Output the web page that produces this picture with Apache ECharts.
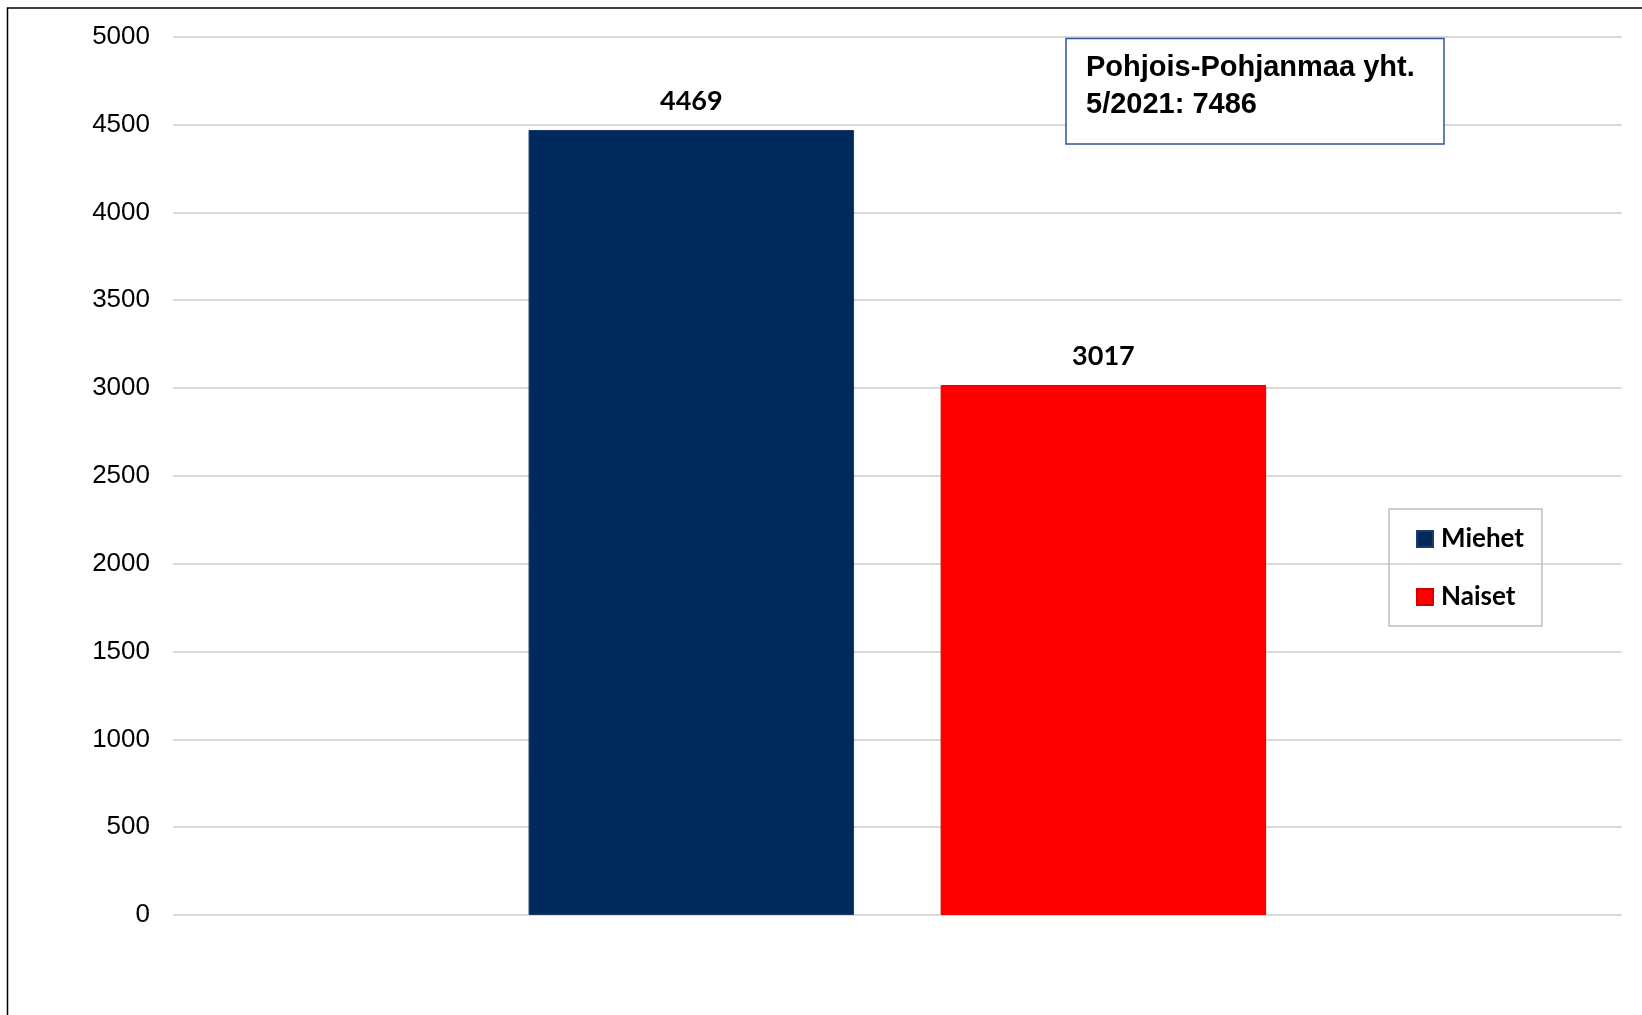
<!DOCTYPE html>
<html>
<head>
<meta charset="utf-8">
<script src="https://cdn.jsdelivr.net/npm/echarts@6/dist/echarts.min.js"></script>
<style>
html,body{margin:0;padding:0;background:#fff;}
#chart{width:1642px;height:1015px;}
</style>
</head>
<body>
<div id="chart"></div>
<script>
var categories = [''];
var seriesNames = ['Miehet', 'Naiset'];
var miehetValues = [4469];
var naisetValues = [3017];
var yTicks = { min: 0, max: 5000, interval: 500 };
var boxText = ['Pohjois-Pohjanmaa yht.', '5/2021: 7486'];

var chart = echarts.init(document.getElementById('chart'));
var labelStyle = {
  show: true, position: 'top', distance: 15,
  fontFamily: 'Lato', fontWeight: 'bold', fontSize: 27, color: '#000'
};
chart.setOption({
  animation: false,
  backgroundColor: '#fff',
  grid: { left: 173, right: 20.3, top: 36.7, bottom: 100, containLabel: false },
  xAxis: {
    type: 'category', data: categories,
    axisLine: { show: false }, axisTick: { show: false }, axisLabel: { show: false }
  },
  yAxis: {
    type: 'value', min: yTicks.min, max: yTicks.max, interval: yTicks.interval,
    axisLine: { show: false }, axisTick: { show: false },
    axisLabel: {
      fontFamily: 'Liberation Sans', fontSize: 26, color: '#000', margin: 23,
      formatter: function (v) { return String(v); }
    },
    splitLine: { lineStyle: { color: '#d9d9d9', width: 2 } }
  },
  legend: {
    orient: 'vertical', left: 1389, top: 509,
    data: seriesNames,
    icon: 'rect', itemWidth: 16, itemHeight: 16, itemGap: 32,
    borderColor: '#bfbfbf', borderWidth: 1.5,
    padding: [17, 18, 16, 27],
    textStyle: { fontFamily: 'Lato', fontWeight: 'bold', fontSize: 26, color: '#000', padding: [0, 0, 0, 3] }
  },
  series: [
    {
      name: seriesNames[0], type: 'bar', data: miehetValues,
      barWidth: 325.5, barGap: '26.6%',
      itemStyle: { color: '#00295c', borderColor: '#1f3a66', borderWidth: 1 },
      label: labelStyle
    },
    {
      name: seriesNames[1], type: 'bar', data: naisetValues,
      barWidth: 325.5, barGap: '26.6%',
      itemStyle: { color: '#ff0000', borderColor: '#d40000', borderWidth: 1 },
      label: labelStyle
    }
  ],
  graphic: [
    {
      type: 'rect', silent: true,
      shape: { x: 7.5, y: 8, width: 1700, height: 1100 },
      style: { fill: 'none', stroke: '#000', lineWidth: 1.5 }
    },
    {
      type: 'rect', silent: true, z: 10,
      shape: { x: 1066, y: 38.5, width: 378, height: 105.5 },
      style: { fill: '#fff', stroke: '#2f5597', lineWidth: 1.5 }
    },
    {
      type: 'text', silent: true, z: 11,
      x: 1086, y: 50,
      style: {
        text: boxText.join('\n'),
        fontFamily: 'Liberation Sans', fontWeight: 'bold', fontSize: 29,
        lineHeight: 36.5, fill: '#000', verticalAlign: 'top', align: 'left'
      }
    }
  ]
});
</script>
</body>
</html>
